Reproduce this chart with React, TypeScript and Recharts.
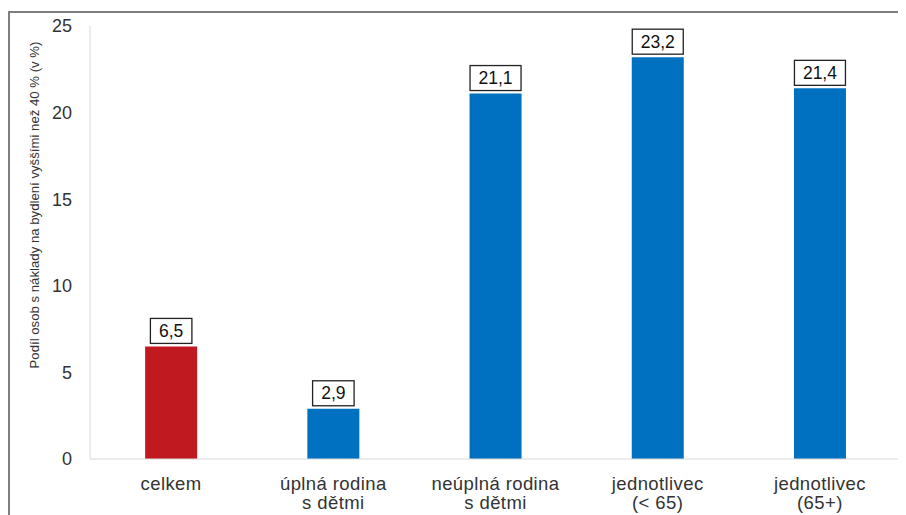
import React from 'react'
import { BarChart, Bar, XAxis, YAxis, Cell, LabelList } from 'recharts'

const categories = ['celkem', 'úplná rodina|s dětmi', 'neúplná rodina|s dětmi', 'jednotlivec|(< 65)', 'jednotlivec|(65+)']
const values = [6.5, 2.9, 21.1, 23.2, 21.4]
const barColors = ['#C01920', '#0070C0', '#0070C0', '#0070C0', '#0070C0']
const yTicks = [0, 5, 10, 15, 20, 25]

const FONT = '"Liberation Sans", Arial, sans-serif'
const TEXT = '#333333'

const data = categories.map((name, i) => ({ name, value: values[i] }))

function XTick(props: any) {
  const { x, y, payload } = props
  const lines = String(payload.value).split('|')
  return (
    <text x={x} y={y} textAnchor="middle" fontFamily={FONT} fontSize={18.5} letterSpacing={0.4} fill={TEXT}>
      {lines.map((l, i) => (
        <tspan key={i} x={x} dy={i === 0 ? 29 : 19}>{l}</tspan>
      ))}
    </text>
  )
}

function ValueLabel(props: any) {
  const { x, y, width, value } = props
  const txt = Number(value).toFixed(1).replace('.', ',')
  const w = txt.length * 9.5 + 13
  const h = 25
  const cx = x + width / 2
  return (
    <g>
      <rect x={cx - w / 2} y={y - h - 3} width={w} height={h} fill="#fff" stroke="#222" strokeWidth={1.3} />
      <text x={cx} y={y - 3 - h / 2 + 6} textAnchor="middle" fontFamily={FONT} fontSize={17.5} fill="#111">
        {txt}
      </text>
    </g>
  )
}

export default function App() {
  return (
    <div style={{ position: 'relative', width: 898, height: 504, marginTop: 3 }}>
      <div
        style={{
          position: 'absolute',
          left: 0,
          top: 0,
          width: 898,
          height: 504,
          borderTop: '2px solid #7f7f7f',
          borderLeft: '2px solid #7f7f7f',
          boxSizing: 'border-box',
        }}
      />
      <div style={{ position: 'absolute', left: 0, top: 0 }}>
        <BarChart
          width={898}
          height={504}
          data={data}
          margin={{ top: 15, right: 5, bottom: 6, left: 22 }}
          barCategoryGap="34%"
        >
          <XAxis
            dataKey="name"
            axisLine={{ stroke: '#d9d9d9' }}
            tickLine={false}
            tickSize={0}
            height={50}
            interval={0}
            tick={<XTick />}
          />
          <YAxis
            domain={[0, 25]}
            ticks={yTicks}
            width={60}
            axisLine={{ stroke: '#d9d9d9' }}
            tickLine={false}
            tickSize={0}
            tickMargin={18}
            tick={{ fontFamily: FONT, fontSize: 18, fill: TEXT }}
          />
          <Bar dataKey="value" isAnimationActive={false}>
            {data.map((d, i) => (
              <Cell key={d.name} fill={barColors[i]} />
            ))}
            <LabelList dataKey="value" content={<ValueLabel />} />
          </Bar>
          <text
            transform="translate(31,194) rotate(-90)"
            textAnchor="middle"
            fontFamily={FONT}
            fontSize={13.2}
            fill={TEXT}
          >
            Podíl osob s náklady na bydlení vyššími než 40 % (v %)
          </text>
        </BarChart>
      </div>
    </div>
  )
}
